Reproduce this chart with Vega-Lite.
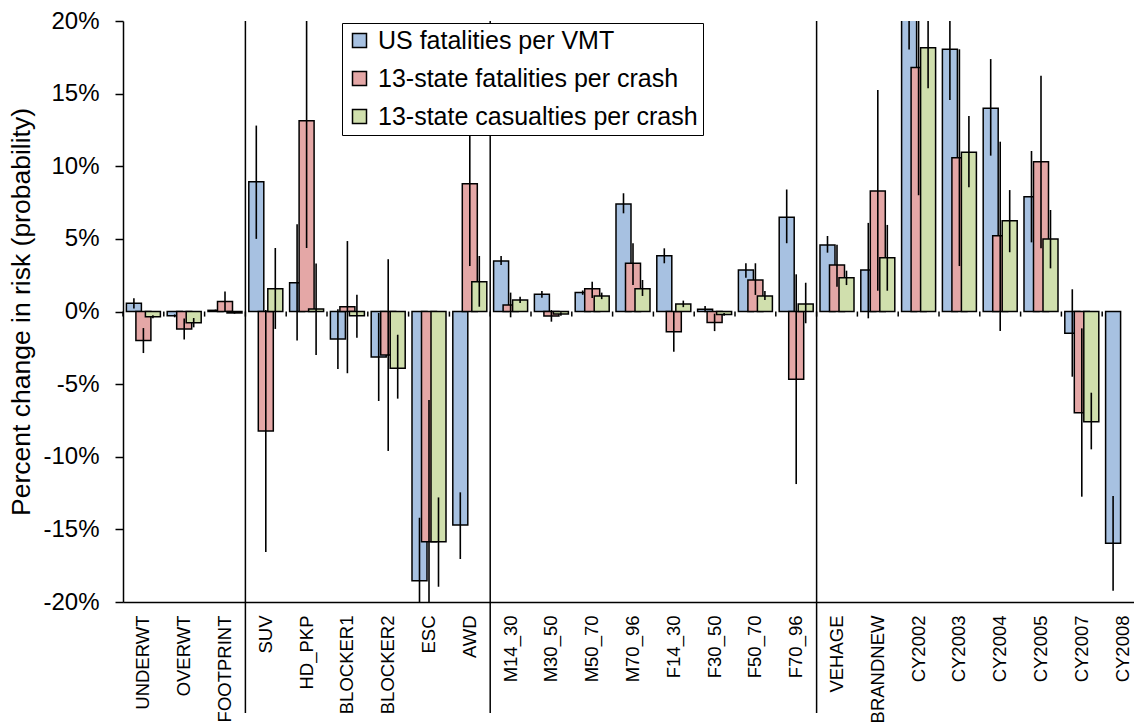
{
  "$schema": "https://vega.github.io/schema/vega-lite/v6.json",
  "width": 1020,
  "height": 581,
  "autosize": {"type": "none"},
  "padding": {"left": 123, "top": 21, "right": -9, "bottom": 120},
  "background": "white",
  "config": {
    "font": "Liberation Sans",
    "view": {"stroke": null},
    "locale": {"number": {"decimal": ".", "thousands": ",", "grouping": [3], "currency": ["$", ""], "minus": "-"}}
  },
  "datasets": {
    "bars": [
      {"cat": "UNDERWT", "series": "US fatalities per VMT", "value": 0.0056, "lo": 0.0021, "hi": 0.0091},
      {"cat": "UNDERWT", "series": "13-state fatalities per crash", "value": -0.020, "lo": -0.0286, "hi": -0.0114},
      {"cat": "UNDERWT", "series": "13-state casualties per crash", "value": -0.0036, "lo": -0.0046, "hi": -0.0026},
      {"cat": "OVERWT", "series": "US fatalities per VMT", "value": -0.003, "lo": -0.004, "hi": -0.002},
      {"cat": "OVERWT", "series": "13-state fatalities per crash", "value": -0.012, "lo": -0.0192, "hi": -0.0048},
      {"cat": "OVERWT", "series": "13-state casualties per crash", "value": -0.0077, "lo": -0.0109, "hi": -0.0045},
      {"cat": "FOOTPRINT", "series": "US fatalities per VMT", "value": 0.0008, "lo": 0.0003, "hi": 0.0013},
      {"cat": "FOOTPRINT", "series": "13-state fatalities per crash", "value": 0.0068, "lo": -0.0002, "hi": 0.0138},
      {"cat": "FOOTPRINT", "series": "13-state casualties per crash", "value": -0.001, "lo": -0.0015, "hi": -0.0005},
      {"cat": "SUV", "series": "US fatalities per VMT", "value": 0.0894, "lo": 0.050, "hi": 0.128},
      {"cat": "SUV", "series": "13-state fatalities per crash", "value": -0.0823, "lo": -0.1656, "hi": 0.001},
      {"cat": "SUV", "series": "13-state casualties per crash", "value": 0.0157, "lo": -0.012, "hi": 0.0437},
      {"cat": "HD_PKP", "series": "US fatalities per VMT", "value": 0.0198, "lo": -0.020, "hi": 0.060},
      {"cat": "HD_PKP", "series": "13-state fatalities per crash", "value": 0.1314, "lo": 0.0437, "hi": 0.219},
      {"cat": "HD_PKP", "series": "13-state casualties per crash", "value": 0.0017, "lo": -0.030, "hi": 0.033},
      {"cat": "BLOCKER1", "series": "US fatalities per VMT", "value": -0.019, "lo": -0.0396, "hi": 0.0016},
      {"cat": "BLOCKER1", "series": "13-state fatalities per crash", "value": 0.0033, "lo": -0.0425, "hi": 0.0485},
      {"cat": "BLOCKER1", "series": "13-state casualties per crash", "value": -0.0029, "lo": -0.018, "hi": 0.0116},
      {"cat": "BLOCKER2", "series": "US fatalities per VMT", "value": -0.0313, "lo": -0.0616, "hi": -0.001},
      {"cat": "BLOCKER2", "series": "13-state fatalities per crash", "value": -0.030, "lo": -0.096, "hi": 0.036},
      {"cat": "BLOCKER2", "series": "13-state casualties per crash", "value": -0.039, "lo": -0.060, "hi": -0.016},
      {"cat": "ESC", "series": "US fatalities per VMT", "value": -0.1853, "lo": -0.228, "hi": -0.142},
      {"cat": "ESC", "series": "13-state fatalities per crash", "value": -0.1585, "lo": -0.256, "hi": -0.061},
      {"cat": "ESC", "series": "13-state casualties per crash", "value": -0.1585, "lo": -0.1895, "hi": -0.128},
      {"cat": "AWD", "series": "US fatalities per VMT", "value": -0.147, "lo": -0.1704, "hi": -0.1245},
      {"cat": "AWD", "series": "13-state fatalities per crash", "value": 0.088, "lo": 0.0313, "hi": 0.145},
      {"cat": "AWD", "series": "13-state casualties per crash", "value": 0.0205, "lo": 0.0033, "hi": 0.0382},
      {"cat": "M14_30", "series": "US fatalities per VMT", "value": 0.0348, "lo": 0.032, "hi": 0.0382},
      {"cat": "M14_30", "series": "13-state fatalities per crash", "value": 0.0045, "lo": -0.004, "hi": 0.013},
      {"cat": "M14_30", "series": "13-state casualties per crash", "value": 0.0079, "lo": 0.0058, "hi": 0.0102},
      {"cat": "M30_50", "series": "US fatalities per VMT", "value": 0.0118, "lo": 0.0095, "hi": 0.0141},
      {"cat": "M30_50", "series": "13-state fatalities per crash", "value": -0.0031, "lo": -0.007, "hi": 0.001},
      {"cat": "M30_50", "series": "13-state casualties per crash", "value": -0.0017, "lo": -0.003, "hi": -0.0005},
      {"cat": "M50_70", "series": "US fatalities per VMT", "value": 0.013, "lo": 0.0115, "hi": 0.0145},
      {"cat": "M50_70", "series": "13-state fatalities per crash", "value": 0.0157, "lo": 0.0093, "hi": 0.0205},
      {"cat": "M50_70", "series": "13-state casualties per crash", "value": 0.0107, "lo": 0.0085, "hi": 0.013},
      {"cat": "M70_96", "series": "US fatalities per VMT", "value": 0.074, "lo": 0.0676, "hi": 0.0814},
      {"cat": "M70_96", "series": "13-state fatalities per crash", "value": 0.0332, "lo": 0.0182, "hi": 0.047},
      {"cat": "M70_96", "series": "13-state casualties per crash", "value": 0.0157, "lo": 0.0107, "hi": 0.0217},
      {"cat": "F14_30", "series": "US fatalities per VMT", "value": 0.0384, "lo": 0.0332, "hi": 0.0435},
      {"cat": "F14_30", "series": "13-state fatalities per crash", "value": -0.0139, "lo": -0.0277, "hi": 0.0},
      {"cat": "F14_30", "series": "13-state casualties per crash", "value": 0.0052, "lo": 0.003, "hi": 0.0075},
      {"cat": "F30_50", "series": "US fatalities per VMT", "value": 0.0015, "lo": -0.0005, "hi": 0.0038},
      {"cat": "F30_50", "series": "13-state fatalities per crash", "value": -0.0075, "lo": -0.0135, "hi": -0.0015},
      {"cat": "F30_50", "series": "13-state casualties per crash", "value": -0.002, "lo": -0.003, "hi": -0.001},
      {"cat": "F50_70", "series": "US fatalities per VMT", "value": 0.0286, "lo": 0.0233, "hi": 0.0332},
      {"cat": "F50_70", "series": "13-state fatalities per crash", "value": 0.0217, "lo": 0.0114, "hi": 0.0332},
      {"cat": "F50_70", "series": "13-state casualties per crash", "value": 0.0107, "lo": 0.0079, "hi": 0.0141},
      {"cat": "F70_96", "series": "US fatalities per VMT", "value": 0.0649, "lo": 0.047, "hi": 0.084},
      {"cat": "F70_96", "series": "13-state fatalities per crash", "value": -0.0467, "lo": -0.1188, "hi": 0.0256},
      {"cat": "F70_96", "series": "13-state casualties per crash", "value": 0.0052, "lo": -0.0081, "hi": 0.0198},
      {"cat": "VEHAGE", "series": "US fatalities per VMT", "value": 0.0458, "lo": 0.0405, "hi": 0.052},
      {"cat": "VEHAGE", "series": "13-state fatalities per crash", "value": 0.032, "lo": 0.0171, "hi": 0.046},
      {"cat": "VEHAGE", "series": "13-state casualties per crash", "value": 0.0233, "lo": 0.0182, "hi": 0.0281},
      {"cat": "BRANDNEW", "series": "US fatalities per VMT", "value": 0.0286, "lo": -0.0047, "hi": 0.061},
      {"cat": "BRANDNEW", "series": "13-state fatalities per crash", "value": 0.083, "lo": 0.0143, "hi": 0.1525},
      {"cat": "BRANDNEW", "series": "13-state casualties per crash", "value": 0.037, "lo": 0.0143, "hi": 0.0596},
      {"cat": "CY2002", "series": "US fatalities per VMT", "value": 0.215, "lo": 0.1803, "hi": 0.25},
      {"cat": "CY2002", "series": "13-state fatalities per crash", "value": 0.168, "lo": 0.080, "hi": 0.256},
      {"cat": "CY2002", "series": "13-state casualties per crash", "value": 0.1816, "lo": 0.1537, "hi": 0.2095},
      {"cat": "CY2003", "series": "US fatalities per VMT", "value": 0.1805, "lo": 0.1456, "hi": 0.215},
      {"cat": "CY2003", "series": "13-state fatalities per crash", "value": 0.1059, "lo": 0.0313, "hi": 0.1805},
      {"cat": "CY2003", "series": "13-state casualties per crash", "value": 0.1096, "lo": 0.0855, "hi": 0.1346},
      {"cat": "CY2004", "series": "US fatalities per VMT", "value": 0.1399, "lo": 0.1073, "hi": 0.1738},
      {"cat": "CY2004", "series": "13-state fatalities per crash", "value": 0.0522, "lo": -0.0134, "hi": 0.1169},
      {"cat": "CY2004", "series": "13-state casualties per crash", "value": 0.0625, "lo": 0.0408, "hi": 0.0836},
      {"cat": "CY2005", "series": "US fatalities per VMT", "value": 0.079, "lo": 0.0476, "hi": 0.1105},
      {"cat": "CY2005", "series": "13-state fatalities per crash", "value": 0.1031, "lo": 0.0435, "hi": 0.1623},
      {"cat": "CY2005", "series": "13-state casualties per crash", "value": 0.0499, "lo": 0.0297, "hi": 0.0699},
      {"cat": "CY2007", "series": "US fatalities per VMT", "value": -0.015, "lo": -0.0449, "hi": 0.0153},
      {"cat": "CY2007", "series": "13-state fatalities per crash", "value": -0.0697, "lo": -0.1275, "hi": -0.0116},
      {"cat": "CY2007", "series": "13-state casualties per crash", "value": -0.0759, "lo": -0.0949, "hi": -0.0559},
      {"cat": "CY2008", "series": "US fatalities per VMT", "value": -0.1596, "lo": -0.1922, "hi": -0.127},
      {"cat": "CY2008", "series": "13-state fatalities per crash", "value": null, "lo": null, "hi": null},
      {"cat": "CY2008", "series": "13-state casualties per crash", "value": null, "lo": null, "hi": null}
    ],
    "seps": [
      {"cat": "SUV"},
      {"cat": "M14_30"},
      {"cat": "VEHAGE"}
    ]
  },
  "encoding": {
    "x": {
      "field": "cat",
      "type": "nominal",
      "sort": null,
      "scale": {
        "domain": ["UNDERWT", "OVERWT", "FOOTPRINT", "SUV", "HD_PKP", "BLOCKER1", "BLOCKER2", "ESC", "AWD", "M14_30", "M30_50", "M50_70", "M70_96", "F14_30", "F30_50", "F50_70", "F70_96", "VEHAGE", "BRANDNEW", "CY2002", "CY2003", "CY2004", "CY2005", "CY2007", "CY2008"],
        "paddingInner": 0,
        "paddingOuter": 0
      },
      "axis": {
        "title": null,
        "labelAngle": -90,
        "labelFontSize": 18.5,
        "labelColor": "black",
        "ticks": false,
        "tickSize": 0,
        "labelPadding": 13,
        "domainColor": "black",
        "domainWidth": 1.5,
        "grid": false
      }
    }
  },
  "layer": [
    {
      "mark": {"type": "rule", "color": "black", "strokeWidth": 1.5},
      "encoding": {"y": {"datum": 0.2, "type": "quantitative"}}
    },
    {
      "mark": {"type": "rule", "color": "black", "strokeWidth": 1.5},
      "encoding": {"y": {"datum": 0, "type": "quantitative"}}
    },
    {
      "data": {"name": "bars"},
      "transform": [{"filter": "datum.series === 'US fatalities per VMT'"}],
      "mark": {"type": "rule", "color": "black", "strokeWidth": 1.5},
      "encoding": {
        "x": {"field": "cat", "type": "nominal", "bandPosition": 0},
        "y": {"datum": 0, "type": "quantitative"},
        "y2": {"datum": -0.0035}
      }
    },
    {
      "data": {"name": "seps"},
      "mark": {"type": "rule", "color": "black", "strokeWidth": 1.5},
      "encoding": {
        "x": {"field": "cat", "type": "nominal", "bandPosition": 0},
        "y": {"datum": 0.2, "type": "quantitative"},
        "y2": {"datum": -0.2764}
      }
    },
    {
      "data": {"name": "bars"},
      "mark": {"type": "bar", "width": 15, "stroke": "black", "strokeWidth": 1.5, "clip": true},
      "encoding": {
        "xOffset": {
          "field": "series",
          "type": "nominal",
          "sort": null,
          "scale": {
            "domain": ["US fatalities per VMT", "13-state fatalities per crash", "13-state casualties per crash"],
            "paddingInner": 0,
            "paddingOuter": 0.647
          }
        },
        "y": {
          "field": "value",
          "type": "quantitative",
          "scale": {"domain": [-0.2, 0.2], "nice": false, "zero": false},
          "axis": {
            "values": [-0.2, -0.15, -0.1, -0.05, 0, 0.05, 0.1, 0.15, 0.2],
            "format": ".0%",
            "title": "Percent change in risk (probability)",
            "titleFontSize": 26.5,
            "titleFontWeight": "normal",
            "titleColor": "black",
            "titlePadding": 7,
            "labelFontSize": 24,
            "labelColor": "black",
            "labelPadding": 16,
            "tickSize": 8,
            "tickColor": "black",
            "tickWidth": 1.5,
            "domainColor": "black",
            "domainWidth": 1.5,
            "grid": false
          }
        },
        "color": {
          "field": "series",
          "type": "nominal",
          "sort": null,
          "scale": {
            "domain": ["US fatalities per VMT", "13-state fatalities per crash", "13-state casualties per crash"],
            "range": ["#a7c1e1", "#e4a7a6", "#d0dfad"]
          },
          "legend": {
            "orient": "none",
            "legendX": 219,
            "legendY": 2,
            "title": null,
            "symbolType": "square",
            "symbolSize": 196,
            "symbolStrokeColor": "black",
            "symbolStrokeWidth": 1.5,
            "symbolOpacity": 1,
            "labelFontSize": 25,
            "labelLimit": 600,
            "labelColor": "black",
            "labelOffset": 6,
            "rowPadding": 12,
            "padding": 5,
            "strokeColor": "black",
            "fillColor": "white"
          }
        }
      }
    },
    {
      "data": {"name": "bars"},
      "mark": {"type": "rule", "color": "black", "strokeWidth": 1.6, "clip": true},
      "encoding": {
        "xOffset": {"field": "series", "type": "nominal", "sort": null},
        "y": {"field": "lo", "type": "quantitative"},
        "y2": {"field": "hi"}
      }
    }
  ]
}
